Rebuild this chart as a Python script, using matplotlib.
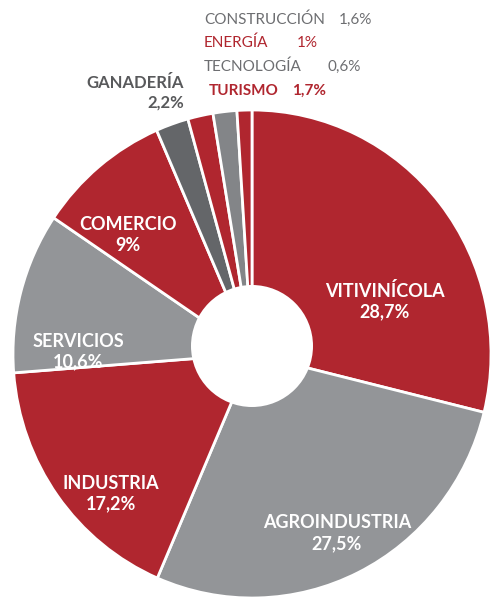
import matplotlib
matplotlib.use("Agg")
import matplotlib.pyplot as plt
from matplotlib.patches import Ellipse

# ---- data ----
sectors = ["VITIVINÍCOLA", "AGROINDUSTRIA", "INDUSTRIA", "SERVICIOS", "COMERCIO",
           "GANADERÍA", "TURISMO", "CONSTRUCCIÓN", "ENERGÍA"]
shares = [28.7, 27.5, 17.2, 10.6, 9, 2.2, 1.7, 1.6, 1]
legend_names = ["CONSTRUCCIÓN", "ENERGÍA", "TECNOLOGÍA", "TURISMO"]
legend_values = [1.6, 1, 0.6, 1.7]

# ---- styles ----
RED = "#B0262F"
GRAY = "#939598"
DARK = "#646669"
MID = "#838588"
TXT_GRAY = "#6D6E71"
TXT_DARK = "#58595B"
wedge_colors = [RED, GRAY, RED, GRAY, RED, DARK, RED, MID, RED]

W, H = 492, 598
plt.rcParams['font.family'] = ['Lato', 'DejaVu Sans']
fig = plt.figure(figsize=(W / 100, H / 100), dpi=100)

cx, cy, rx, ry = 252, 354, 239, 244
ax = fig.add_axes([(cx - rx) / W, (H - cy - ry) / H, 2 * rx / W, 2 * ry / H])
ax.pie(shares, colors=wedge_colors, startangle=90, counterclock=False,
       radius=1, wedgeprops=dict(edgecolor="white", linewidth=2))
ax.set_aspect('auto')
ax.set_xlim(-1, 1)
ax.set_ylim(-1, 1)
ax.axis('off')

# white centre circle
hx, hy, hr = 252, 346, 61
ax.add_patch(Ellipse(((hx - cx) / rx, (cy - hy) / ry), 2 * hr / rx, 2 * hr / ry,
                     facecolor="white", edgecolor="none", zorder=5))


def fmt(v):
    return f"{v:g}".replace('.', ',') + "%"


def ftext(xp, yp, s, **kw):
    fig.text(xp / W, 1 - yp / H, s, **kw)


# inside labels (pixel centres)
inside_pos = {
    "VITIVINÍCOLA": (385, 301),
    "AGROINDUSTRIA": (337, 533),
    "INDUSTRIA": (111, 494),
    "SERVICIOS": (78, 352),
    "COMERCIO": (128, 235),
}
for name, val in zip(sectors, shares):
    if name in inside_pos:
        xp, yp = inside_pos[name]
        ftext(xp, yp, f"{name}\n{fmt(val)}", ha='center', va='center',
              ma='center', color='white', fontsize=13, fontweight='bold',
              linespacing=1.25)

# GANADERÍA outside label
g_i = sectors.index("GANADERÍA")
ftext(184, 93, f"{sectors[g_i]}\n{fmt(shares[g_i])}", ha='right', va='center',
      ma='right', color=TXT_DARK, fontsize=12, fontweight='bold', linespacing=1.3)

# top legend list
leg_rows = [
    (204, 20, 339, TXT_GRAY, 'normal'),
    (204, 43, 297, RED, 'normal'),
    (204, 67, 328, TXT_GRAY, 'normal'),
    (209, 91, 292, RED, 'bold'),
]
for (xn, yp, xv, col, wt), n, v in zip(leg_rows, legend_names, legend_values):
    ftext(xn, yp, n, ha='left', va='center', color=col, fontsize=11, fontweight=wt)
    ftext(xv, yp, fmt(v), ha='left', va='center', color=col, fontsize=11, fontweight=wt)

fig.savefig("out.png", dpi=100)
